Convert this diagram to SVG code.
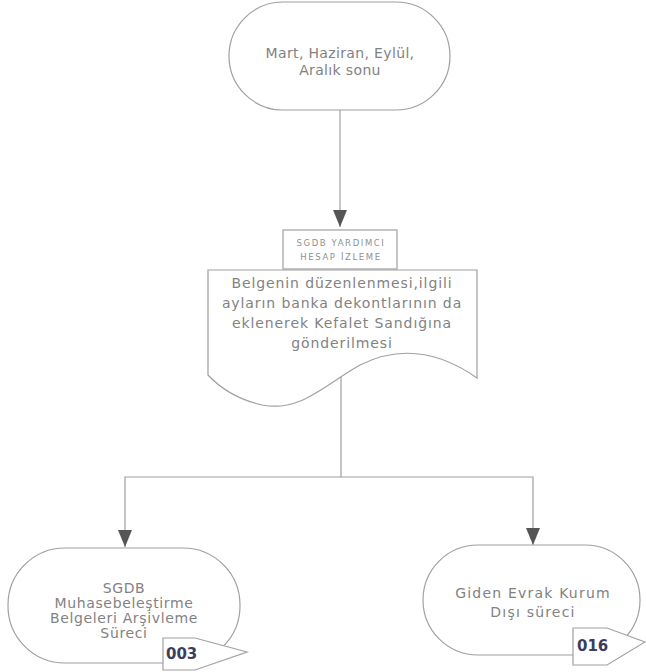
<svg xmlns="http://www.w3.org/2000/svg" width="646" height="672" viewBox="0 0 646 672">
<defs>
<style>
.sh{fill:#fff;stroke:#a0a0a0;stroke-width:1.2}
.t{font-family:"DejaVu Sans",Verdana,sans-serif;font-size:14px;fill:#828282;text-anchor:middle}
.s{font-family:"DejaVu Sans",Verdana,sans-serif;font-size:8.5px;fill:#909090;text-anchor:middle;letter-spacing:1.6px}
.n{font-family:"DejaVu Sans",Verdana,sans-serif;font-size:15px;font-weight:bold;fill:#3c3c60}
.c{fill:none;stroke:#a0a0a0;stroke-width:1.2}
</style>
<marker id="ah" viewBox="0 0 17 14" refX="17" refY="7" markerWidth="17" markerHeight="14" markerUnits="userSpaceOnUse" orient="auto">
<path d="M0,0 L17,7 L0,14 Z" fill="#555"/>
</marker>
</defs>
<g id="connectors">
<path class="c" d="M340,110 V227" marker-end="url(#ah)"/>
<path class="c" d="M341,376 V477 H125 V547" marker-end="url(#ah)"/>
<path class="c" d="M341,477 H533 V545" marker-end="url(#ah)"/>
</g>
<g id="start">
<rect class="sh" x="229" y="2" width="221" height="108" rx="54" ry="54"/>
<text class="t" x="340" y="58" letter-spacing="0.35">Mart, Haziran, Eylül,</text>
<text class="t" x="340" y="75" letter-spacing="0.35">Aralık sonu</text>
</g>
<g id="doc">
<rect class="sh" x="283" y="230" width="114" height="39"/>
<text class="s" x="341" y="246">SGDB YARDIMCI</text>
<text class="s" x="341" y="260">HESAP İZLEME</text>
<path class="sh" d="M208,270 H477 V378 C440,352 400,345 360,365 C320,388 300,412 262,405 C240,400 222,390 208,375 Z"/>
<g letter-spacing="0.9">
<text class="t" x="342" y="288">Belgenin düzenlenmesi,ilgili</text>
<text class="t" x="342" y="308">ayların banka dekontlarının da</text>
<text class="t" x="342" y="328">eklenerek Kefalet Sandığına</text>
<text class="t" x="342" y="348">gönderilmesi</text>
</g>
</g>
<g id="end1">
<rect class="sh" x="8" y="548" width="232" height="115" rx="57" ry="57"/>
<g letter-spacing="0.65">
<text class="t" x="124" y="593">SGDB</text>
<text class="t" x="124" y="608">Muhasebeleştirme</text>
<text class="t" x="124" y="623">Belgeleri Arşivleme</text>
<text class="t" x="124" y="638">Süreci</text>
</g>
<path class="sh" d="M163,638 H195 L247,652 L195,670 H163 Z"/>
<text class="n" x="166" y="659">003</text>
</g>
<g id="end2">
<rect class="sh" x="423" y="545" width="217" height="110" rx="55" ry="55"/>
<g letter-spacing="1.2">
<text class="t" x="533" y="598">Giden Evrak Kurum</text>
<text class="t" x="533" y="617">Dışı süreci</text>
</g>
<path class="sh" d="M573,628 H607 L645,642 L607,665 H573 Z"/>
<text class="n" x="577" y="651">016</text>
</g>
</svg>
